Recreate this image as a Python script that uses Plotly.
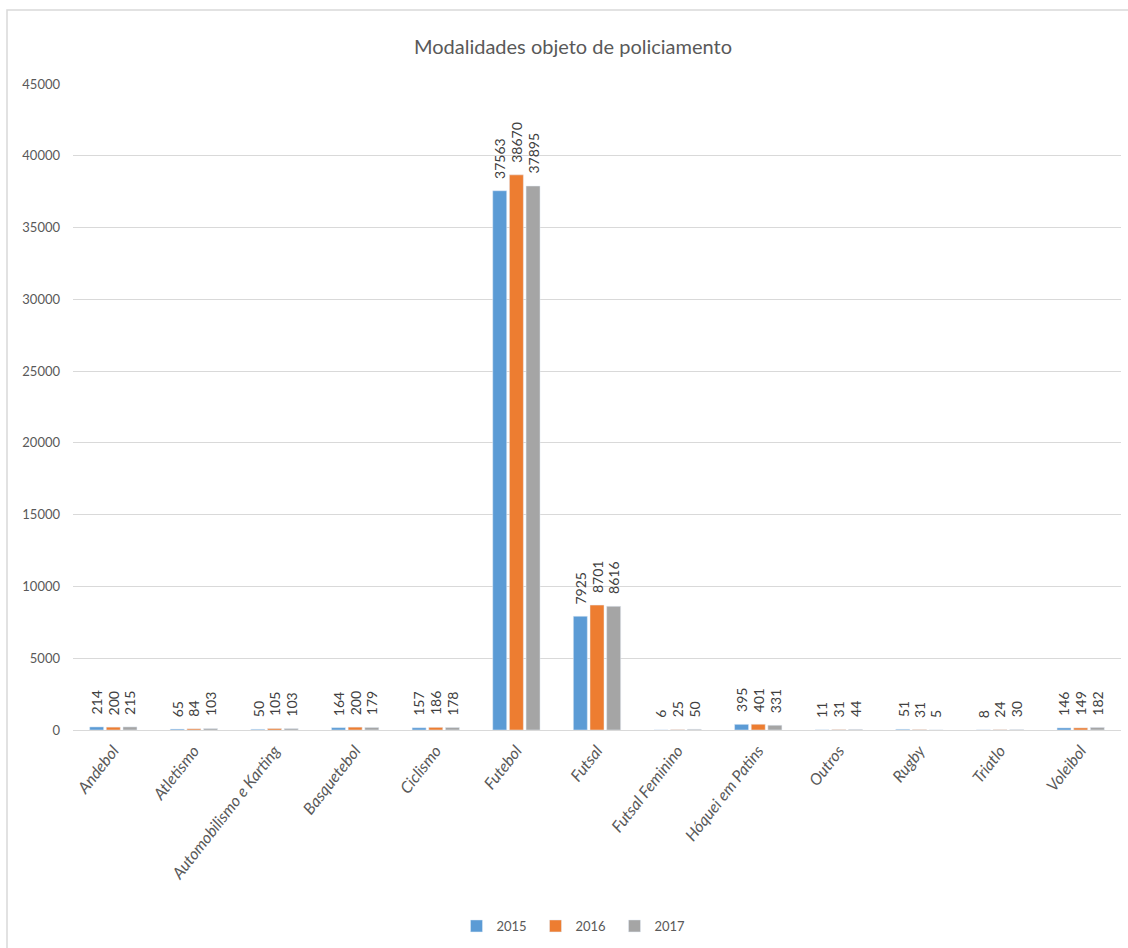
import plotly.graph_objects as go

modalidades = [
    "Andebol", "Atletismo", "Automobilismo e Karting", "Basquetebol", "Ciclismo",
    "Futebol", "Futsal", "Futsal Feminino", "Hóquei em Patins", "Outros",
    "Rugby", "Triatlo", "Voleibol",
]
anos = ["2015", "2016", "2017"]
v2015 = [214, 65, 50, 164, 157, 37563, 7925, 6, 395, 11, 51, 8, 146]
v2016 = [200, 84, 105, 200, 186, 38670, 8701, 25, 401, 31, 31, 24, 149]
v2017 = [215, 103, 103, 179, 178, 37895, 8616, 50, 331, 44, 5, 30, 182]
cores = ["#5B9BD5", "#ED7D31", "#A5A5A5"]
y_ticks = list(range(0, 45001, 5000))

FONT = "Lato"
W, H = 1128, 948
ML, MR, MT, MB = 73, 7, 84, 218
BARGAP = 0.38

series = [v2015, v2016, v2017]

fig = go.Figure()
for ano, vals, cor in zip(anos, series, cores):
    fig.add_trace(go.Bar(name=ano, x=modalidades, y=vals, marker_color=cor))

# value labels above each bar, rotated to read upwards
slot = (1 - BARGAP) / len(series)
for k, vals in enumerate(series):
    for i, v in enumerate(vals):
        fig.add_annotation(
            x=i + (k - (len(series) - 1) / 2) * slot, y=v, xref="x", yref="y",
            text=str(v), textangle=-90, showarrow=False,
            xanchor="center", yanchor="bottom", yshift=10,
            font=dict(family=FONT, size=14, color="#404040"),
        )

pw = W - ML - MR
ph = H - MT - MB
fig.add_shape(
    type="rect", xref="paper", yref="paper",
    x0=(7 - ML) / pw, x1=(W + 5 - ML) / pw,
    y0=(H - MB - (H + 5)) / ph, y1=(H - MB - 10) / ph,
    line=dict(color="#D9D9D9", width=1.5), fillcolor="rgba(0,0,0,0)", layer="below",
)

fig.update_layout(
    width=W, height=H,
    margin=dict(l=ML, r=MR, t=MT, b=MB),
    paper_bgcolor="white", plot_bgcolor="white",
    barmode="group", bargap=BARGAP, bargroupgap=0.16,
    title=dict(text="Modalidades objeto de policiamento", x=573 / W, xanchor="center",
               y=1 - 47 / H, yanchor="middle",
               font=dict(family=FONT, size=20, color="#595959")),
    legend=dict(orientation="h", x=(575 - ML) / pw, xanchor="center", y=(H - MB - 926) / ph,
                yanchor="middle", font=dict(family=FONT, size=13, color="#595959"),
                itemwidth=30, entrywidth=34, traceorder="normal", tracegroupgap=0),
)
fig.update_yaxes(
    range=[0, 45000], tickvals=y_ticks, ticktext=[str(t) for t in y_ticks],
    showgrid=True, gridcolor="#D9D9D9", gridwidth=1, zeroline=False,
    tickfont=dict(family=FONT, size=13, color="#595959"), ticks="", ticklabelstandoff=12,
)
fig.update_xaxes(
    tickangle=-52, showline=True, linecolor="#D9D9D9", linewidth=1,
    tickfont=dict(family=FONT, size=16, color="#595959", style="italic"),
    ticks="", ticklabelstandoff=4,
)
fig.write_html("out.html")
